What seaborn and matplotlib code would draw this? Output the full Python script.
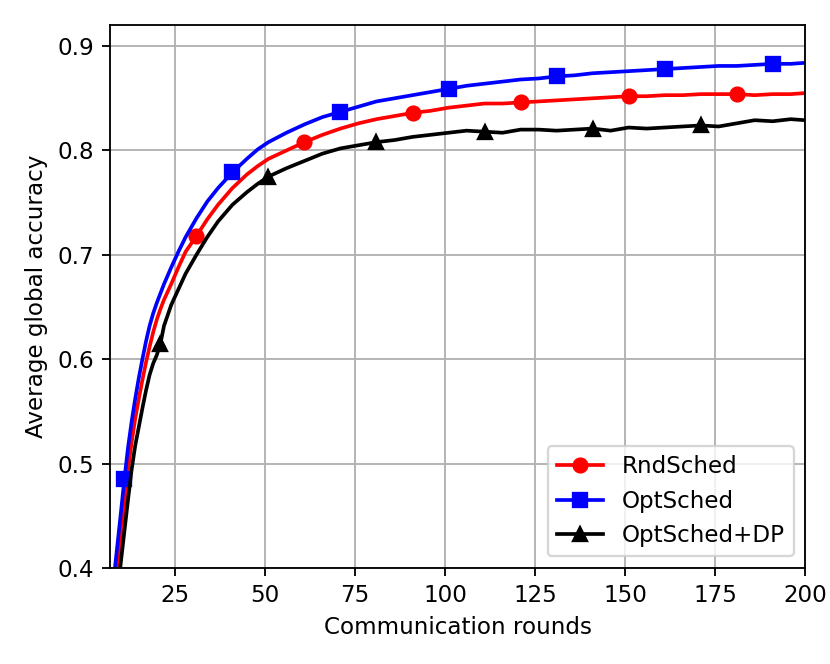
import matplotlib
matplotlib.use('Agg')
import matplotlib.pyplot as plt
import seaborn as sns

# rounds at which values were read
rounds = [7, 8, 9, 10, 11, 12, 13, 14, 15, 16, 17, 18, 19, 20, 21, 22, 24, 26, 28, 31,
          34, 37, 41, 45, 48, 51, 56, 61, 66, 71, 76, 81, 86, 91, 96, 101, 106, 111, 116, 121,
          126, 131, 136, 141, 146, 151, 156, 161, 166, 171, 176, 181, 186, 191, 196, 200]

rnd_sched = [0.330, 0.363, 0.397, 0.430, 0.462, 0.494, 0.520, 0.543, 0.562, 0.580,
             0.597, 0.612, 0.626, 0.638, 0.648, 0.657, 0.672, 0.688, 0.703, 0.718,
             0.734, 0.748, 0.764, 0.777, 0.785, 0.792, 0.800, 0.808, 0.815, 0.821,
             0.826, 0.830, 0.833, 0.836, 0.838, 0.841, 0.843, 0.845, 0.845, 0.846,
             0.847, 0.848, 0.849, 0.850, 0.851, 0.852, 0.852, 0.853, 0.853, 0.854,
             0.854, 0.854, 0.853, 0.854, 0.854, 0.855]

opt_sched = [0.355, 0.388, 0.420, 0.452, 0.485, 0.515, 0.540, 0.562, 0.582, 0.600,
             0.617, 0.632, 0.644, 0.654, 0.663, 0.672, 0.688, 0.703, 0.717, 0.735,
             0.751, 0.764, 0.779, 0.792, 0.801, 0.808, 0.817, 0.825, 0.832, 0.837,
             0.842, 0.847, 0.850, 0.853, 0.856, 0.859, 0.862, 0.864, 0.866, 0.868,
             0.869, 0.871, 0.872, 0.874, 0.875, 0.876, 0.877, 0.878, 0.879, 0.880,
             0.881, 0.881, 0.882, 0.883, 0.883, 0.884]

opt_sched_dp = [0.310, 0.340, 0.372, 0.405, 0.435, 0.465, 0.494, 0.517, 0.535, 0.553,
                0.570, 0.585, 0.596, 0.604, 0.615, 0.632, 0.652, 0.667, 0.682, 0.700,
                0.717, 0.732, 0.748, 0.760, 0.768, 0.775, 0.783, 0.790, 0.797, 0.802,
                0.805, 0.808, 0.810, 0.813, 0.815, 0.817, 0.819, 0.818, 0.817, 0.820,
                0.820, 0.819, 0.820, 0.821, 0.819, 0.822, 0.821, 0.822, 0.823, 0.824,
                0.823, 0.826, 0.829, 0.828, 0.830, 0.829]

# rounds carrying a marker
rnd_marks = [31, 61, 91, 121, 151, 181]
opt_marks = [11, 41, 71, 101, 131, 161, 191]
dp_marks = [21, 51, 81, 111, 141, 171]

fig, ax = plt.subplots(figsize=(5, 4), dpi=166)

sns.lineplot(x=rounds, y=rnd_sched, color='red', marker='o', linewidth=1.6,
             markevery=[rounds.index(r) for r in rnd_marks],
             markeredgecolor='red', markeredgewidth=1, label='RndSched', ax=ax)
sns.lineplot(x=rounds, y=opt_sched, color='blue', marker='s', linewidth=1.6,
             markevery=[rounds.index(r) for r in opt_marks],
             markeredgecolor='blue', markeredgewidth=1, label='OptSched', ax=ax)
sns.lineplot(x=rounds, y=opt_sched_dp, color='black', marker='^', linewidth=1.6,
             markevery=[rounds.index(r) for r in dp_marks],
             markeredgecolor='black', markeredgewidth=1, label='OptSched+DP', ax=ax)

ax.set_xlim(7, 200)
ax.set_ylim(0.4, 0.92)
ax.set_xticks([25, 50, 75, 100, 125, 150, 175, 200])
ax.set_yticks([0.4, 0.5, 0.6, 0.7, 0.8, 0.9])
ax.set_xlabel('Communication rounds')
ax.set_ylabel('Average global accuracy')
ax.grid(True)
ax.legend(loc='lower right')

plt.subplots_adjust(left=0.1325, right=0.970, bottom=0.1446, top=0.962)
fig.savefig('out.png', dpi=166)
